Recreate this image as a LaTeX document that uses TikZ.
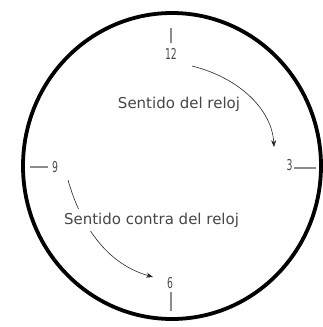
\documentclass[tikz,border=0pt]{standalone}
\usepackage{fontspec}
\setmainfont{DejaVu Sans}
\newfontfamily\hourfont[FakeStretch=0.62]{DejaVu Sans}
\usetikzlibrary{arrows.meta}

\begin{document}
\begin{tikzpicture}[x=1pt, y=-1pt,
    hour/.style={font=\hourfont\fontsize{15}{16}\selectfont, text=black!70, inner sep=0pt},
    tick/.style={draw=black!45, line width=1.6pt},
    caption/.style={font=\fontsize{15}{17}\selectfont, text=black!72, fill=white, inner xsep=1pt, inner ysep=4pt},
    arrow/.style={-{Stealth[length=2.4mm, width=1.8mm]}, draw=black!85, line width=0.6pt}
]
    \useasboundingbox (0,0) rectangle (323,327);

    % dial
    \draw[line width=3.8pt] (172,166) ellipse [x radius=149, y radius=153];

    % hour marks
    \draw[tick] (171,28) -- (171,43);
    \draw[tick] (294,168) -- (316,168);
    \draw[tick] (171,292) -- (171,311);
    \draw[tick] (30,167) -- (48,167);

    \node[hour] (h12) at (171,53.5) {12};
    \node[hour] (h3)  at (289.5,165) {3};
    \node[hour] (h6)  at (170,283)  {6};
    \node[hour] (h9)  at (55,167)   {9};

    % directions
    \coordinate (cwstart)  at (192,66);
    \coordinate (cwend)    at (274,147);
    \coordinate (ccwstart) at (68,180);
    \coordinate (ccwend)   at (153,277);

    \draw[arrow] (cwstart) .. controls (240,78) and (272,110) .. (cwend);
    \draw[arrow] (ccwstart) .. controls (78,215) and (100,262) .. (ccwend);

    \node[caption] (cw)  at (179,104) {Sentido del reloj};
    \node[caption] (ccw) at (151.5,220) {Sentido contra del reloj};
\end{tikzpicture}
\end{document}
